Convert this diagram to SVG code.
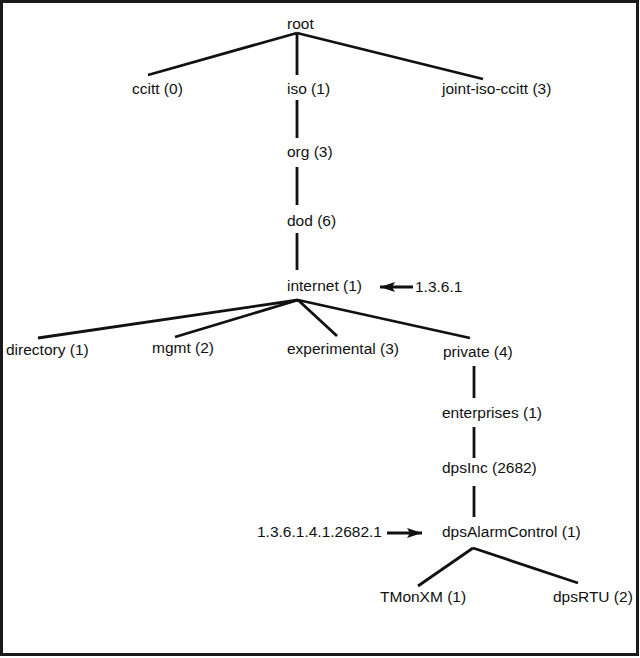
<svg xmlns="http://www.w3.org/2000/svg" width="640" height="658" viewBox="0 0 640 658">
<style>
text{font-family:"Liberation Sans",Arial,Helvetica,sans-serif;font-size:15.5px;fill:#111}
.c line{stroke:#111;stroke-width:2.8;stroke-linecap:butt}
.frame{fill:#fff;stroke:#1a1a1a;stroke-width:3}
</style>
<defs>
<marker id="ah" markerWidth="16" markerHeight="10" refX="15" refY="5" orient="auto" markerUnits="userSpaceOnUse">
<path d="M0,0 L15,5 L0,10 L3,5 Z" fill="#111"/>
</marker>
</defs>
<rect class="frame" x="1.5" y="1.5" width="636" height="653"/>
<g class="c" id="connectors">
<line x1="297" y1="33" x2="148" y2="75"/>
<line x1="297" y1="33" x2="297" y2="75"/>
<line x1="297" y1="33" x2="483" y2="79"/>
<line x1="297" y1="100" x2="297" y2="138"/>
<line x1="297" y1="167" x2="297" y2="205"/>
<line x1="297" y1="233" x2="297" y2="270"/>
<line x1="298" y1="300" x2="38" y2="338"/>
<line x1="298" y1="300" x2="175" y2="337"/>
<line x1="298" y1="300" x2="337" y2="336"/>
<line x1="298" y1="300" x2="470" y2="338"/>
<line x1="474" y1="366" x2="474" y2="398"/>
<line x1="474" y1="427" x2="474" y2="458"/>
<line x1="474" y1="486" x2="474" y2="517"/>
<line x1="473" y1="548" x2="418" y2="586"/>
<line x1="473" y1="548" x2="578" y2="583"/>
<line x1="413" y1="287" x2="380" y2="287" marker-end="url(#ah)"/>
<line x1="387" y1="533" x2="422" y2="533" marker-end="url(#ah)"/>
</g>
<g id="root"><text x="287" y="29">root</text></g>
<g id="ccitt"><text x="132" y="94">ccitt (0)</text></g>
<g id="iso"><text x="287" y="94">iso (1)</text></g>
<g id="joint-iso-ccitt"><text x="442" y="94">joint-iso-ccitt (3)</text></g>
<g id="org"><text x="287" y="157">org (3)</text></g>
<g id="dod"><text x="287" y="226">dod (6)</text></g>
<g id="internet"><text x="287" y="291">internet (1)</text></g>
<g id="label-internet"><text x="415" y="292">1.3.6.1</text></g>
<g id="directory"><text x="6" y="355">directory (1)</text></g>
<g id="mgmt"><text x="152" y="353">mgmt (2)</text></g>
<g id="experimental"><text x="287" y="354">experimental (3)</text></g>
<g id="private"><text x="443" y="357">private (4)</text></g>
<g id="enterprises"><text x="442" y="418">enterprises (1)</text></g>
<g id="dpsInc"><text x="442" y="473">dpsInc (2682)</text></g>
<g id="dpsAlarmControl"><text x="442" y="537">dpsAlarmControl (1)</text></g>
<g id="label-dpsAlarmControl"><text x="257" y="537">1.3.6.1.4.1.2682.1</text></g>
<g id="TMonXM"><text x="380" y="602">TMonXM (1)</text></g>
<g id="dpsRTU"><text x="553" y="602">dpsRTU (2)</text></g>
</svg>
